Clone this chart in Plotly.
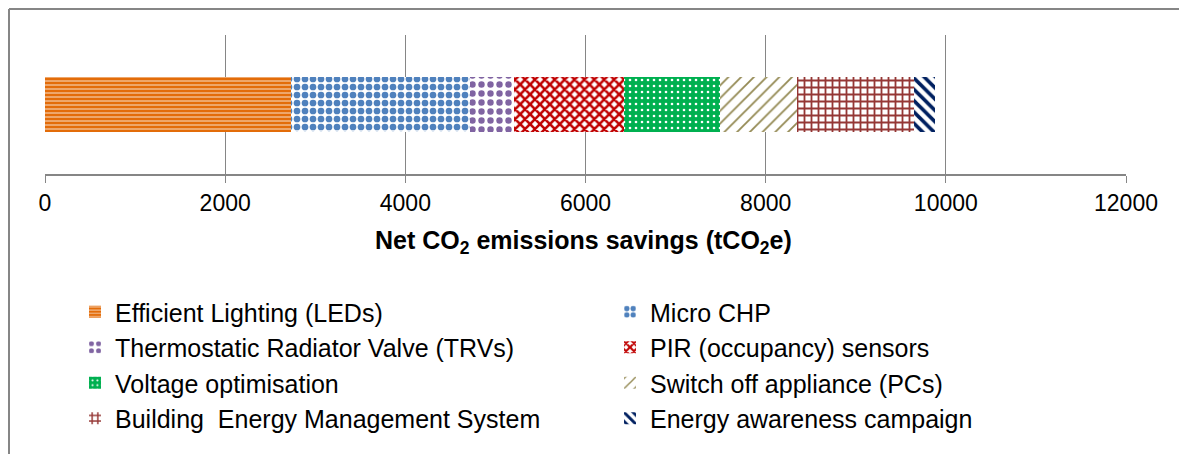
import plotly.graph_objects as go

categories = ["Net savings"]
measures = [
    "Efficient Lighting (LEDs)",
    "Micro CHP",
    "Thermostatic Radiator Valve (TRVs)",
    "PIR (occupancy) sensors",
    "Voltage optimisation",
    "Switch off appliance (PCs)",
    "Building  Energy Management System",
    "Energy awareness campaign",
]
savings = [2730, 1987, 494, 1213, 1068, 858, 1294, 234]
tick_values = [0, 2000, 4000, 6000, 8000, 10000, 12000]
tick_labels = ["0", "2000", "4000", "6000", "8000", "10000", "12000"]

styles = [
    dict(color="#E36C09", shape="-", fg="#FFFFFF", bg="#E36C09", size=4, sol=0.2),
    dict(color="#4F81BD", shape=".", fg="#4F81BD", bg="#FFFFFF", size=8, sol=0.55),
    dict(color="#8064A2", shape=".", fg="#8064A2", bg="#FFFFFF", size=9, sol=0.4),
    dict(color="#C00000", shape="x", fg="#C00000", bg="#FFFFFF", size=7, sol=0.6),
    dict(color="#00B050", shape=".", fg="#FFFFFF", bg="#00B050", size=6, sol=0.15),
    dict(color="#948A54", shape="/", fg="#948A54", bg="#FFFFFF", size=9, sol=0.2),
    dict(color="#953735", shape="+", fg="#953735", bg="#FFFFFF", size=7, sol=0.45),
    dict(color="#002060", shape="\\", fg="#002060", bg="#FFFFFF", size=8, sol=0.45),
]

FONT = "Liberation Sans, Arial, sans-serif"

fig = go.Figure()
for name, val, st in zip(measures, savings, styles):
    fig.add_trace(go.Bar(
        y=categories, x=[val], name=name, orientation="h",
        width=0.396,
        marker=dict(
            color=st["color"],
            line=dict(width=0),
            pattern=dict(shape=st["shape"], fgcolor=st["fg"], bgcolor=st["bg"],
                         size=st["size"], solidity=st["sol"], fillmode="replace"),
        ),
    ))

# the page body adds an 8 px offset, so figure pixels = page pixels - 8
OFF = 8
W, H = 1187 - 2 * OFF, 462 - 2 * OFF
ml, mt = 45 - OFF, 35 - OFF
mr = W - (1126 - OFF)
mb = H - (174 - OFF)
pw = W - ml - mr
ph = H - mt - mb

def px_x(p):
    return (p - OFF - ml) / pw

def px_y(p):
    return (H - mb - (p - OFF)) / ph

fig.update_layout(
    width=W, height=H,
    barmode="stack",
    margin=dict(l=ml, r=mr, t=mt, b=mb, autoexpand=False),
    paper_bgcolor="white", plot_bgcolor="white",
    font=dict(family=FONT, size=23, color="black"),
    showlegend=True,
    legend=dict(
        orientation="h", x=px_x(75), y=px_y(289), xanchor="left", yanchor="top",
        entrywidth=490, entrywidthmode="pixels",
        font=dict(family=FONT, size=25, color="black"),
        traceorder="normal", itemclick=False, bgcolor="rgba(0,0,0,0)",
    ),
    xaxis=dict(
        range=[0, 12000], tickvals=tick_values, ticktext=tick_labels,
        showgrid=True, gridcolor="#868686", gridwidth=1,
        showline=True, linecolor="#868686", linewidth=2,
        ticks="outside", ticklen=7, tickcolor="#868686",
        tickfont=dict(size=23), zeroline=False, automargin=False,
    ),
    yaxis=dict(
        range=[-0.5, 0.5], showticklabels=False, showgrid=False,
        showline=False, zeroline=False, ticks="", automargin=False,
    ),
    annotations=[dict(
        text="<b>Net CO<sub>2</sub> emissions savings (tCO<sub>2</sub>e)</b>",
        xref="paper", yref="paper", x=px_x(583), y=px_y(242),
        xanchor="center", yanchor="middle", showarrow=False,
        font=dict(family=FONT, size=25, color="black"),
    )],
    shapes=[
        dict(type="line", xref="paper", yref="paper", x0=px_x(9), x1=px_x(1200),
             y0=px_y(9), y1=px_y(9), line=dict(color="#868686", width=2)),
        dict(type="line", xref="paper", yref="paper", x0=px_x(9), x1=px_x(9),
             y0=px_y(9), y1=px_y(470), line=dict(color="#868686", width=2)),
    ],
)

fig.write_html("out.html")
